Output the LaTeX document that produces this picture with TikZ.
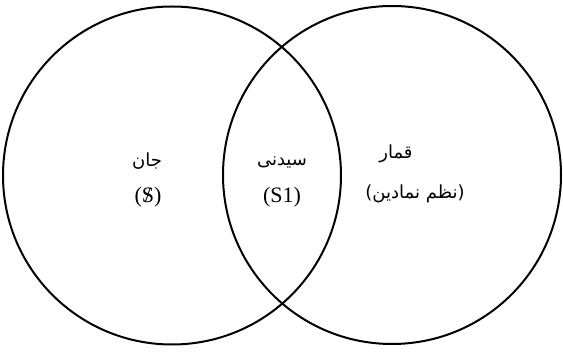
\documentclass[tikz,border=0pt]{standalone}
\usepackage{fontspec}
\setmainfont{Liberation Serif}
\newfontfamily\arabicfont[Script=Arabic]{DejaVu Sans}
\TeXXeTstate=1
\tikzset{
  ring/.style={draw=black, line width=2pt},
  lbl/.style={font=\fontsize{22}{24}\selectfont, inner sep=0pt},
  albl/.style={font=\arabicfont\fontsize{18}{20}\selectfont, inner sep=0pt}
}
\begin{document}
\begin{tikzpicture}[x=1pt,y=-1pt]
\useasboundingbox (0,0) rectangle (563,352);
\draw[ring] (172,175.5) circle[radius=169];
\draw[ring] (392,175) circle[radius=169];
\node[albl] (jan) at (147,161) {\beginR جان\endR};
\node[lbl] (s) at (148,197) {(\ooalign{S\cr\hidewidth/\hidewidth})};
\node[albl] (sidni) at (282,162) {\beginR سیدنی\endR};
\node[lbl] (s1) at (282,197) {(S1)};
\node[albl] (qmar) at (396,154) {\beginR قمار\endR};
\node[albl] (nazm) at (415,194) {\beginR (نظم نمادین)\endR};
\end{tikzpicture}
\end{document}
